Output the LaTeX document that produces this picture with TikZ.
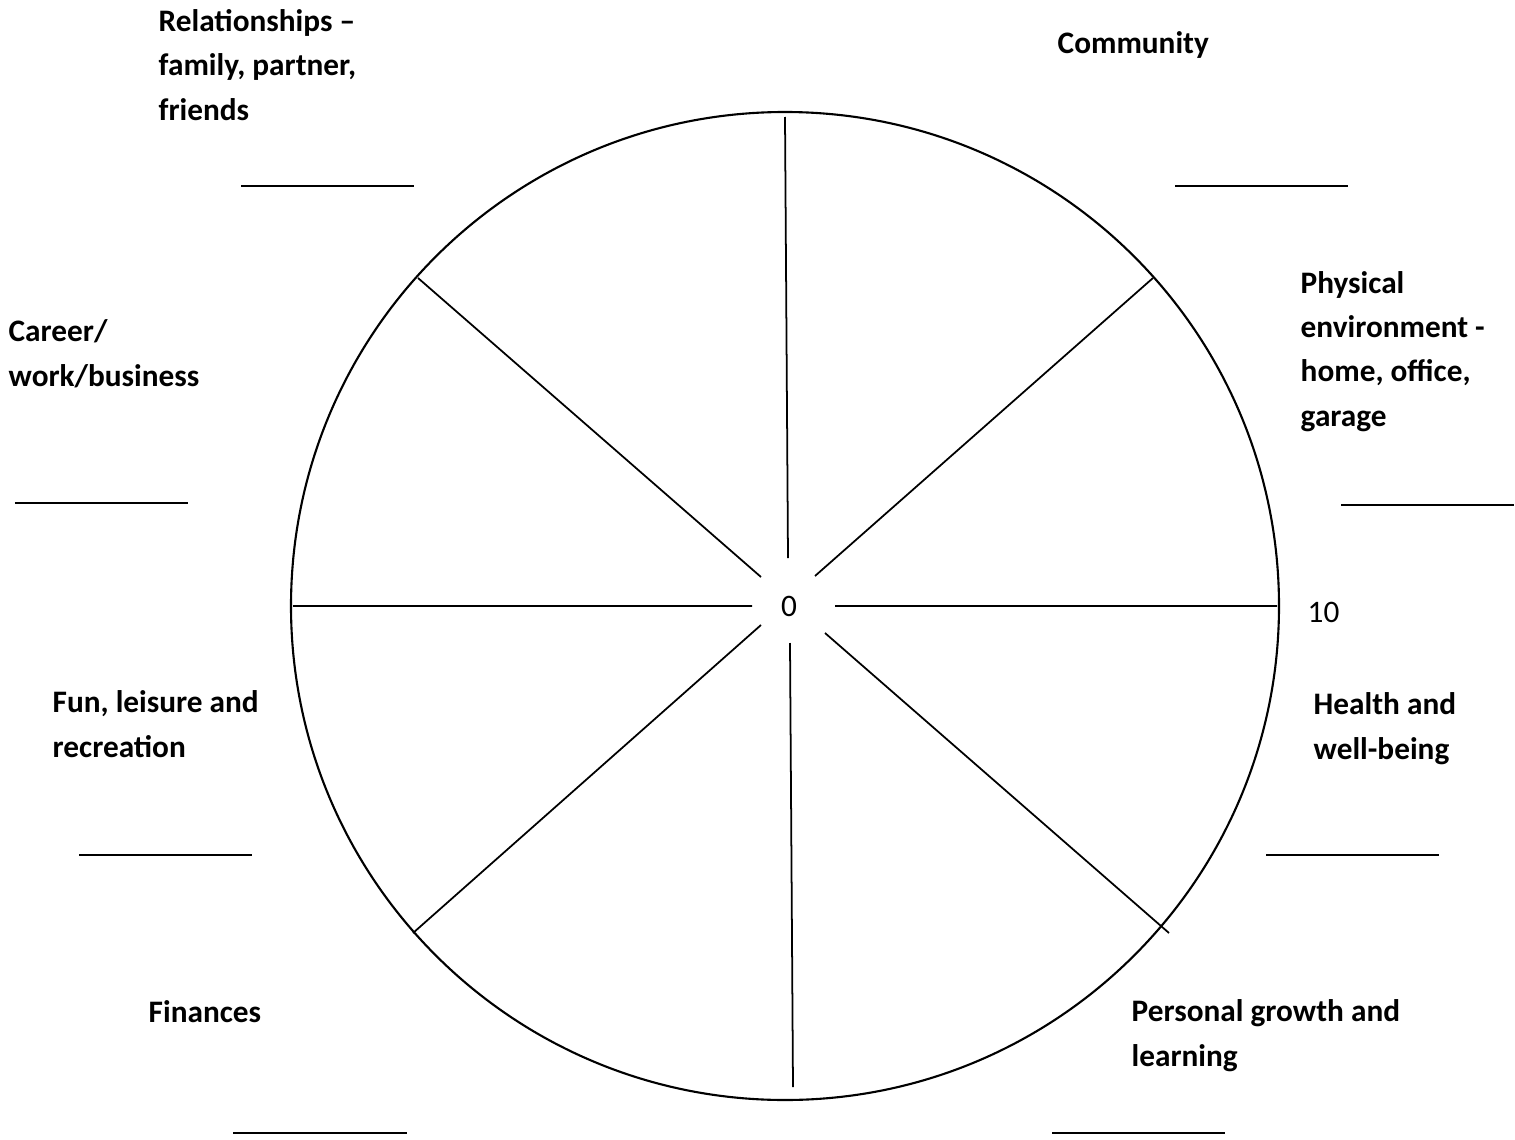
\documentclass[tikz,border=0pt]{standalone}
\usepackage{fontspec}
\setmainfont{Carlito}
\tikzset{
  area/.style={anchor=base west, align=left, inner sep=0pt,
    font=\bfseries\fontsize{8.9}{12.6}\selectfont},
  scale label/.style={inner sep=0pt, font=\fontsize{8.9}{12.6}\selectfont},
  spoke/.style={line width=0.5pt},
  blank/.style={line width=0.5pt}
}
\begin{document}
\begin{tikzpicture}
    \useasboundingbox (0,0) rectangle (15.15,11.39);
    % the wheel
    \draw[line width=0.6pt] (7.85,5.33) circle (4.94cm);
    \draw[spoke] (7.85,10.22)--(7.88,5.81)
	  (7.90,4.96)--(7.93,0.52)
	  (2.93,5.33)--(7.52,5.33)
	  (8.35,5.33)--(12.77,5.33)
	  (4.18,8.61)--(7.61,5.62)
	  (11.53,8.61)--(8.15,5.63)
	  (7.61,5.14)--(4.13,2.06)
	  (8.25,5.06)--(11.69,2.06);
    \node[scale label, anchor=base] (zero) at (7.89,5.23) {0};
    \node[scale label, anchor=base west] (ten) at (13.07,5.17) {10};
    % areas of life (base = baseline of the last line)
    \node[area] (rel) at (1.58,10.19) {Relationships --\\family, partner,\\friends};
    \node[area] (comm) at (10.57,10.85) {Community};
    \node[area] (career) at (0.08,7.53) {Career/\\work/business};
    \node[area] (phys) at (13.00,7.13) {Physical\\environment -\\home, office,\\garage};
    \node[area] (fun) at (0.52,3.82) {Fun, leisure and\\recreation};
    \node[area] (health) at (13.13,3.80) {Health and\\well-being};
    \node[area] (fin) at (1.48,1.17) {Finances};
    \node[area] (pers) at (11.31,0.73) {Personal growth and\\learning};
    % blanks for the scores
    \draw[blank] (2.41,9.53)--(4.14,9.53)
	  (11.75,9.53)--(13.48,9.53)
	  (0.15,6.36)--(1.88,6.36)
	  (13.41,6.34)--(15.14,6.34)
	  (0.79,2.84)--(2.52,2.84)
	  (12.66,2.84)--(14.39,2.84)
	  (2.33,0.06)--(4.07,0.06)
	  (10.52,0.06)--(12.25,0.06);
\end{tikzpicture}
\end{document}
